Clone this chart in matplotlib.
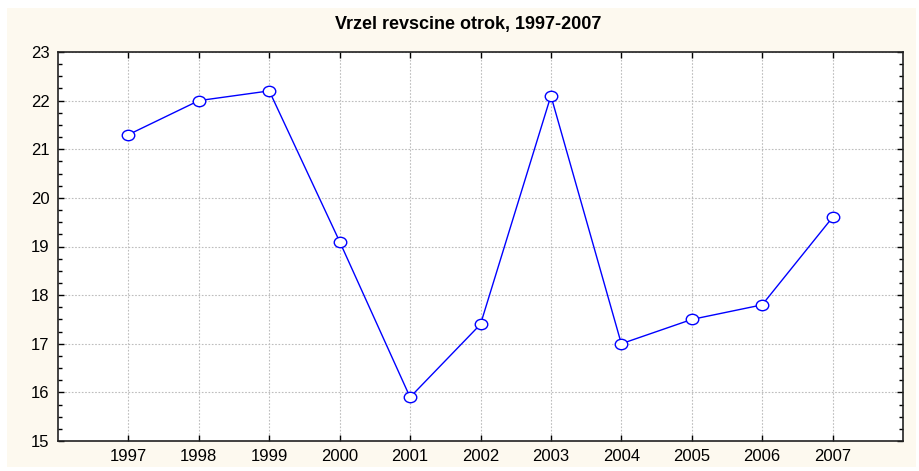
import matplotlib.pyplot as plt
from matplotlib.patches import Rectangle
from matplotlib.path import Path
from matplotlib.transforms import Affine2D
from matplotlib.ticker import MultipleLocator

plt.rcParams['font.family'] = ['Liberation Sans', 'DejaVu Sans']

years = [1997, 1998, 1999, 2000, 2001, 2002, 2003, 2004, 2005, 2006, 2007]
vrzel = [21.3, 22.0, 22.2, 19.1, 15.9, 17.4, 22.1, 17.0, 17.5, 17.8, 19.6]

W, H = 919, 471
fig = plt.figure(figsize=(W / 100, H / 100), dpi=100)
fig.patch.set_facecolor('white')

# krem ozadje okoli grafa
fig.patches.append(Rectangle((7 / W, 1 - 467 / H), 909 / W, 459 / H,
                             transform=fig.transFigure, facecolor='#fdf9ef',
                             edgecolor='none', zorder=-10))

ax = fig.add_axes([58 / W, 1 - 441 / H, 845 / W, 389 / H])
ax.set_facecolor('white')

# rahlo sploscen krog kot v originalu
oval = Path.unit_circle().transformed(Affine2D().scale(1.2, 1.0))

ax.plot(years, vrzel, color='#0000ff', linewidth=1.0, marker=oval,
        markersize=9, markerfacecolor='white', markeredgecolor='#0000ff',
        markeredgewidth=1.0, zorder=3)

ax.set_xlim(1996, 2008)
ax.set_ylim(15, 23)
ax.set_xticks(years)
ax.set_xticklabels([str(y) for y in years])
ax.yaxis.set_major_locator(MultipleLocator(1))
ax.yaxis.set_minor_locator(MultipleLocator(0.25))

ax.grid(True, which='major', color='#bdbdbd', linestyle=(0, (1.5, 1.5)), linewidth=0.8)
ax.tick_params(which='both', direction='in', top=True, right=True,
               labelsize=12, colors='black', pad=6)
ax.tick_params(which='major', length=4, width=1)
ax.tick_params(which='minor', length=3, width=1)
for s in ax.spines.values():
    s.set_linewidth(1.2)
    s.set_color('#222222')

fig.text(468 / W, 1 - 25 / H, 'Vrzel revscine otrok, 1997-2007', ha='center',
         va='center', fontsize=13, fontweight='bold')

fig.savefig('out.png', dpi=100, facecolor=fig.get_facecolor())
